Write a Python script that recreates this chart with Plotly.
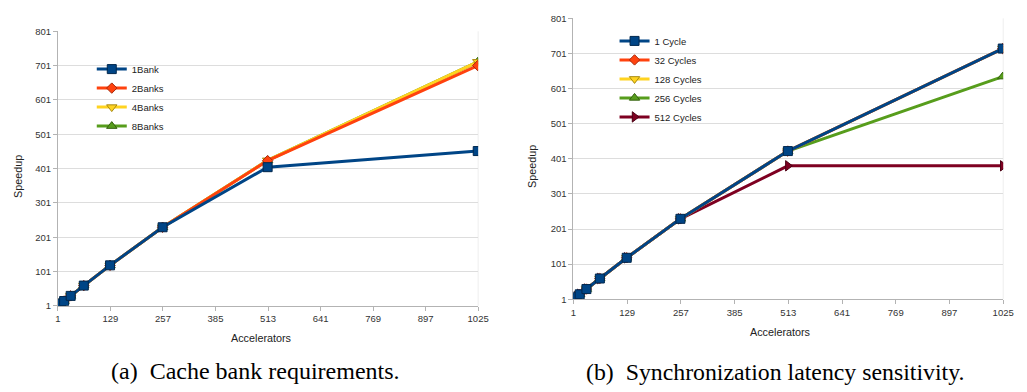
import plotly.graph_objects as go

# Number of accelerators (shared x values for both panels)
accelerators = [1, 2, 4, 8, 16, 32, 64, 128, 256, 512, 1024]

# (a) cache bank requirements
bank_names = ["1Bank", "2Banks", "4Banks", "8Banks"]
bank_1 = [1, 2, 4, 8, 15, 30, 60, 119, 230, 405, 452]
bank_2 = [1, 2, 4, 8, 15, 30, 60, 119, 230, 424, 701]
bank_4 = [1, 2, 4, 8, 15, 30, 60, 119, 230, 425, 712]
bank_8 = [1, 2, 4, 8, 15, 30, 60, 119, 230, 425, 712]

# (b) synchronization latency sensitivity
cycle_names = ["1 Cycle", "32 Cycles", "128 Cycles", "256 Cycles", "512 Cycles"]
cycle_1 = [1, 2, 4, 8, 15, 30, 60, 119, 230, 423, 715]
cycle_32 = [1, 2, 4, 8, 15, 30, 60, 119, 230, 423, 715]
cycle_128 = [1, 2, 4, 8, 15, 30, 60, 119, 230, 423, 715]
cycle_256 = [1, 2, 4, 8, 15, 30, 60, 119, 230, 423, 635]
cycle_512 = [1, 2, 4, 8, 15, 30, 60, 119, 230, 381, 381]

x_ticks = [1, 129, 257, 385, 513, 641, 769, 897, 1025]
y_ticks = [1, 101, 201, 301, 401, 501, 601, 701, 801]

colors = ["#004586", "#ff420e", "#ffd320", "#579d1c", "#7e0021"]
borders = ["#00274d", "#a8290a", "#a88a10", "#35600f", "#4a0013"]
symbols = ["square", "diamond", "triangle-down", "triangle-up", "triangle-right"]
sizes = [9, 8, 9, 9, 9]

W, H = 1027, 392
FONT = "Liberation Sans, Arial, sans-serif"
SERIF = "Liberation Serif, Times New Roman, serif"

fig = go.Figure()

panel_a = [bank_1, bank_2, bank_4, bank_8]
panel_b = [cycle_1, cycle_32, cycle_128, cycle_256, cycle_512]

# first series drawn on top: add in reverse order, keep legend order via legendrank
for i in reversed(range(len(panel_a))):
    fig.add_trace(go.Scatter(
        x=accelerators, y=panel_a[i], name=bank_names[i], mode="lines+markers",
        line=dict(color=colors[i], width=3),
        marker=dict(symbol=symbols[i], size=sizes[i], color=colors[i],
                    line=dict(color=borders[i], width=1)),
        xaxis="x", yaxis="y", legend="legend", legendrank=i + 1,
    ))

for i in reversed(range(len(panel_b))):
    fig.add_trace(go.Scatter(
        x=accelerators, y=panel_b[i], name=cycle_names[i], mode="lines+markers",
        line=dict(color=colors[i], width=3),
        marker=dict(symbol=symbols[i], size=sizes[i], color=colors[i],
                    line=dict(color=borders[i], width=1)),
        xaxis="x2", yaxis="y2", legend="legend2", legendrank=i + 1,
    ))

def xaxis(dom, anchor):
    return dict(domain=dom, anchor=anchor, range=[1, 1025], tickvals=x_ticks,
                showgrid=False, zeroline=False, showline=True, linecolor="#b3b3b3",
                linewidth=1, ticks="outside", ticklen=4, tickcolor="#b3b3b3",
                tickfont=dict(family=FONT, size=9.5, color="#333333"))

def yaxis(dom, anchor):
    return dict(domain=dom, anchor=anchor, range=[1, 801], tickvals=y_ticks,
                showgrid=True, gridcolor="#dddddd", gridwidth=1, zeroline=False,
                showline=True, linecolor="#b3b3b3", linewidth=1, ticks="outside",
                ticklen=4, tickcolor="#b3b3b3",
                tickfont=dict(family=FONT, size=9.5, color="#333333"))

def px(xp):
    return xp / W

def py(yp):
    return 1 - yp / H

legend_style = dict(font=dict(family=FONT, size=9.5, color="#222222"),
                    bgcolor="rgba(0,0,0,0)", borderwidth=0, tracegroupgap=0,
                    itemwidth=30, xanchor="left", yanchor="top")

fig.update_layout(
    width=W, height=H,
    margin=dict(l=0, r=0, t=0, b=0),
    paper_bgcolor="white", plot_bgcolor="white",
    showlegend=True,
    xaxis=xaxis([px(55.7), px(481.7)], "y"),
    yaxis=yaxis([py(308.5), py(26)], "x"),
    xaxis2=xaxis([px(578.3), px(1014)], "y2"),
    yaxis2=yaxis([py(301.7), py(12.7)], "x2"),
    legend=dict(x=px(90), y=py(50), **legend_style),
    legend2=dict(x=px(620), y=py(21), **legend_style),
)

# axis titles and captions
title_font = dict(family=FONT, size=10.8, color="#222222")
annotations = [
    dict(text="Speedup", x=px(15), y=py(175), textangle=-90, font=title_font),
    dict(text="Accelerators", x=px(262), y=py(341.5), font=title_font),
    dict(text="Speedup", x=px(537), y=py(165), textangle=-90, font=title_font),
    dict(text="Accelerators", x=px(788.5), y=py(335), font=title_font),
    dict(text="(a)\u2002Cache bank requirements.", x=px(255.5), y=py(376),
         font=dict(family=SERIF, size=24, color="black")),
    dict(text="(b)\u2002Synchronization latency sensitivity.", x=px(782.5), y=py(377),
         font=dict(family=SERIF, size=23.8, color="black")),
]
for a in annotations:
    a.update(xref="paper", yref="paper", showarrow=False, xanchor="center", yanchor="middle")
fig.update_layout(annotations=annotations)

# faint right-hand border of each plot wall
for x0, y0, y1 in [(481.7, 26, 308.5), (1014, 12.7, 301.7)]:
    fig.add_shape(type="line", xref="paper", yref="paper", x0=px(x0), x1=px(x0),
                  y0=py(y1), y1=py(y0), line=dict(color="#eeeeee", width=1), layer="below")

fig.write_html("out.html")
